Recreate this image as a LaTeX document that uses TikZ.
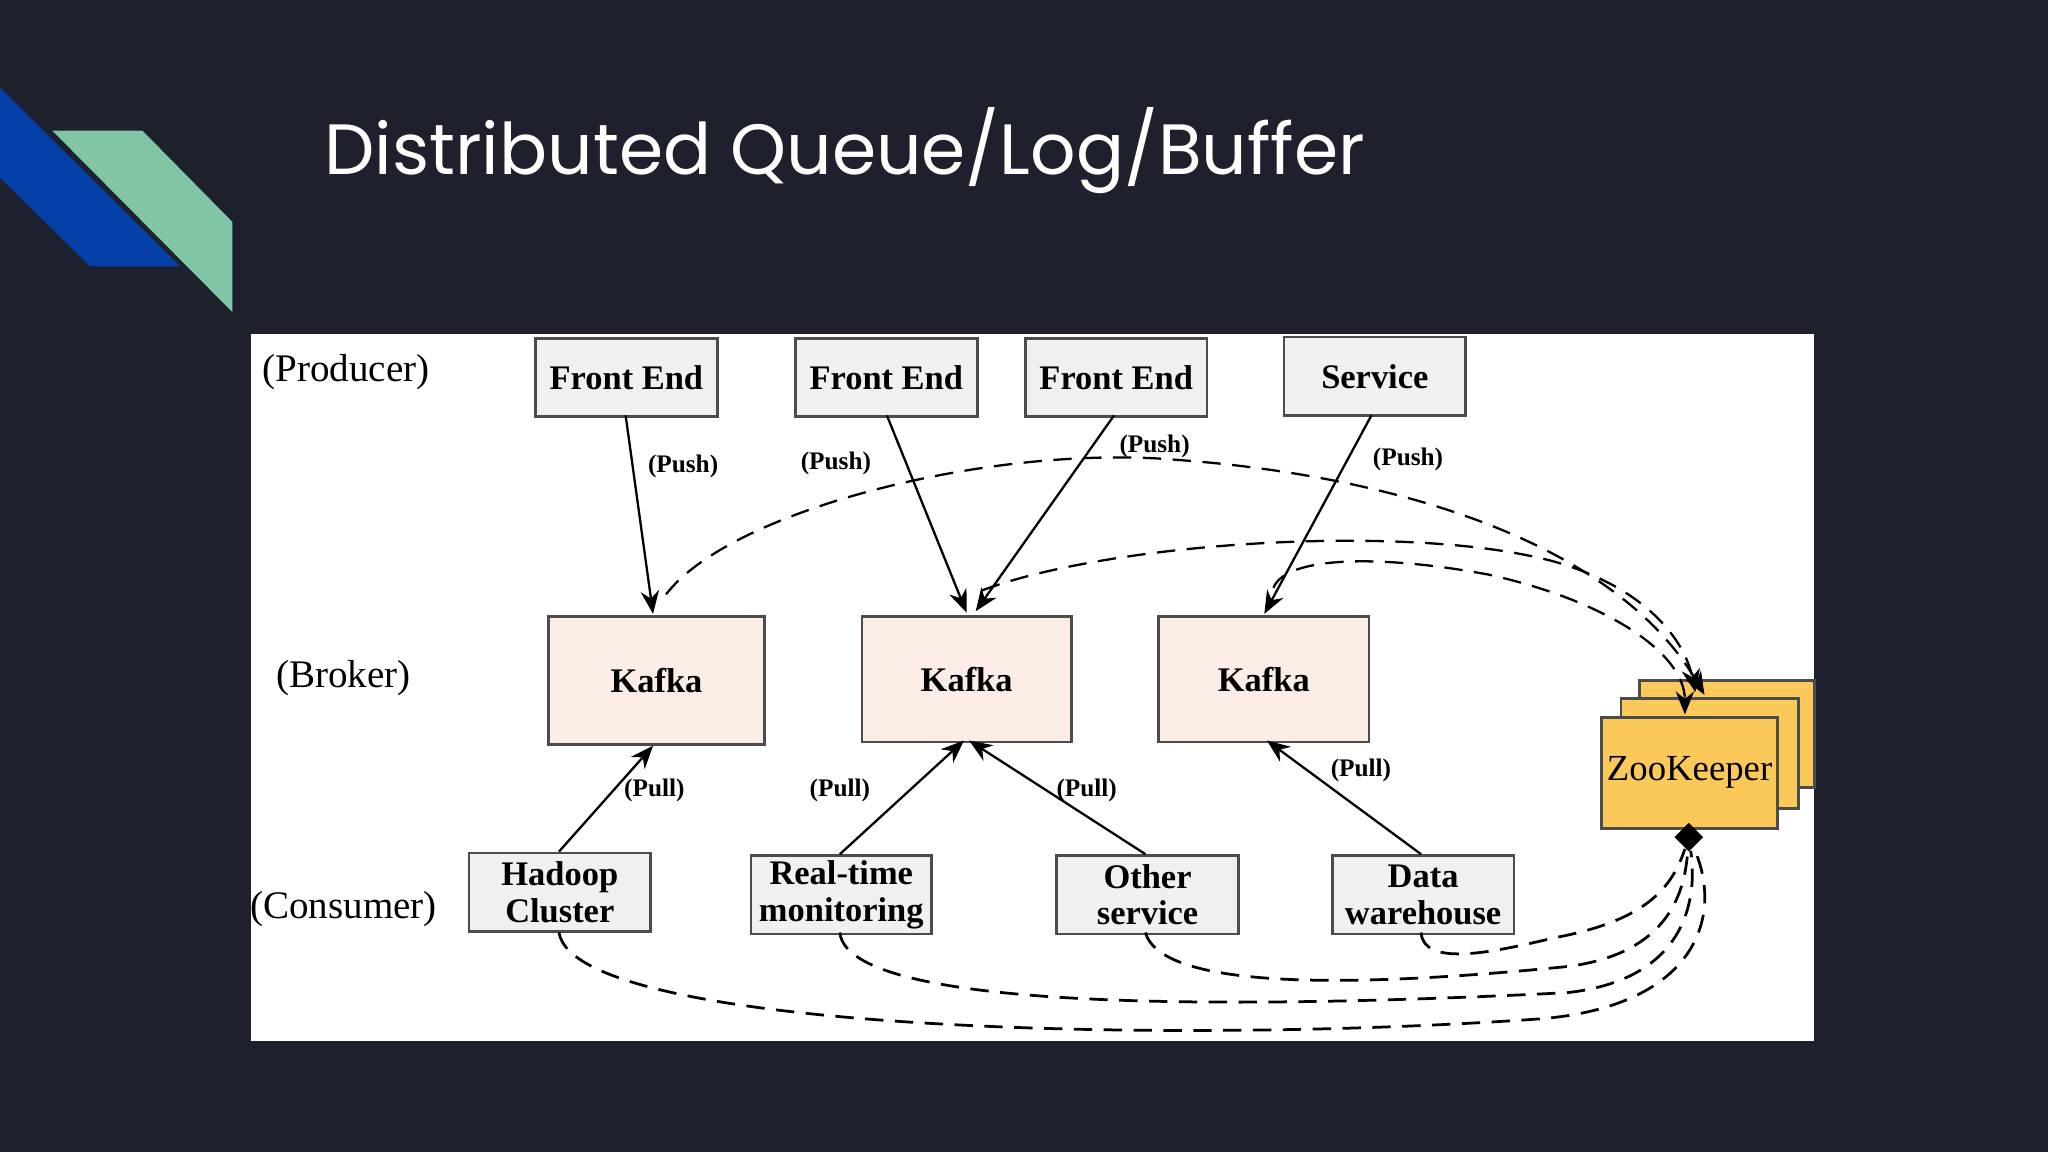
\documentclass[tikz,border=0pt]{standalone}
\usepackage{fontspec}
\setmainfont{Liberation Serif}
\newfontfamily\titlefont{Poppins}
\usetikzlibrary{arrows.meta,shapes.geometric}
\definecolor{bg}{RGB}{30,32,45}
\definecolor{bl}{RGB}{4,64,168}
\definecolor{gr}{RGB}{128,198,164}
\definecolor{kf}{RGB}{252,238,230}
\definecolor{pb}{RGB}{240,240,240}
\definecolor{zk}{RGB}{251,200,90}
\begin{document}
\begin{tikzpicture}[x=0.01cm,y=-0.01cm,
 box/.style={draw=black!70,line width=0.6pt,fill=pb,font=\bfseries\fontsize{7.5}{8}\selectfont,align=center,inner sep=0,anchor=north west},
 kaf/.style={box,fill=kf},
 zkb/.style={draw=black!70,line width=0.6pt,fill=zk,inner sep=0,anchor=north west},
 lab/.style={font=\bfseries\fontsize{5.5}{6}\selectfont},
 side/.style={font=\fontsize{8.5}{9}\selectfont},
 arr/.style={-{Stealth[length=5pt,width=4pt]},line width=0.5pt},
 dsh/.style={dashed,dash pattern=on 4pt off 2.5pt,line width=0.6pt}]
\fill[bg] (0,0) rectangle (1568,882);
\useasboundingbox (0,0) rectangle (1568,882);
\fill[bl] (0,67)--(0,136)--(69,204)--(138,204)--cycle;
\fill[gr] (40,100)--(109,100)--(178,170)--(178,239)--cycle;
\node[anchor=west,text=white,font=\titlefont\fontsize{15.5}{17}\selectfont] (title) at (236,115) {Distributed Queue/Log/Buffer};
\fill[white] (192,256) rectangle (1389,797);
\node[side] (lp) at (265,285) {(Producer)};
\node[side] (lb) at (263,519) {(Broker)};
\node[side] (lc) at (263,696) {(Consumer)};
\node[box,minimum width=1.39cm,minimum height=0.6cm] (f1) at (409,258) {Front End};
\node[box,minimum width=1.39cm,minimum height=0.6cm] (f2) at (608,258) {Front End};
\node[box,minimum width=1.39cm,minimum height=0.6cm] (f3) at (784,258) {Front End};
\node[box,minimum width=1.39cm,minimum height=0.6cm] (sv) at (982,257) {Service};
\node[kaf,minimum width=1.65cm,minimum height=0.98cm] (k1) at (419,471) {Kafka};
\node[kaf,minimum width=1.6cm,minimum height=0.96cm] (k2) at (659,471) {Kafka};
\node[kaf,minimum width=1.61cm,minimum height=0.96cm] (k3) at (886,471) {Kafka};
\node[box,minimum width=1.39cm,minimum height=0.6cm] (c1) at (358,652) {Hadoop\\Cluster};
\node[box,minimum width=1.38cm,minimum height=0.6cm] (c2) at (574,654) {Real-time\\monitoring};
\node[box,minimum width=1.39cm,minimum height=0.6cm] (c3) at (808,654) {Other\\service};
\node[box,minimum width=1.39cm,minimum height=0.6cm] (c4) at (1019,654) {Data\\warehouse};
\node[zkb,minimum width=1.34cm,minimum height=0.82cm] (z3) at (1254,520) {};
\node[zkb,minimum width=1.36cm,minimum height=0.84cm] (z2) at (1240,534) {};
\node[zkb,minimum width=1.35cm,minimum height=0.85cm,font=\fontsize{8}{9}\selectfont] (zk) at (1225,548) {ZooKeeper};
% push
\coordinate (k1t) at (500,470); \coordinate (k2t) at (740,469); \coordinate (k3t) at (968,470);
\draw[arr] (479,318) -- (k1t);
\draw[arr] (679,318) -- (k2t);
\draw[arr] (853,318) -- (747,468);
\draw[arr] (1050,318) -- (k3t);
\node[lab] (p1) at (523,357) {(Push)};
\node[lab] (p2) at (640,355) {(Push)};
\node[lab] (p3) at (884,342) {(Push)};
\node[lab] (p4) at (1078,352) {(Push)};
% pull
\draw[arr] (428,652) -- (500,571);
\draw[arr] (643,654) -- (738,567);
\draw[arr] (877,654) -- (742,567);
\draw[arr] (1088,654) -- (970,567);
\node[lab] (q1) at (501,605) {(Pull)};
\node[lab] (q2) at (643,605) {(Pull)};
\node[lab] (q3) at (832,605) {(Pull)};
\node[lab] (q4) at (1042,590) {(Pull)};
% zookeeper links
\coordinate (za) at (1305,532); \coordinate (zb) at (1298,530); \coordinate (zc) at (1290,547);
\draw[dsh,arr] (510,455) .. controls (560,390) and (760,340) .. (900,352) .. controls (1080,365) and (1240,420) .. (za);
\draw[dsh,arr] (752,452) .. controls (850,415) and (1080,400) .. (1190,430) .. controls (1260,450) and (1290,490) .. (zb);
\draw[dsh,arr] (975,450) .. controls (985,425) and (1060,425) .. (1140,440) .. controls (1230,460) and (1290,500) .. (zc);
\node[diamond,fill=black,inner sep=1.6pt] (zd) at (1293,641) {};
\draw[dsh] (1088,714) .. controls (1090,740) and (1140,730) .. (1190,718) .. controls (1260,705) and (1280,680) .. (zd);
\draw[dsh] (877,714) .. controls (890,760) and (1050,755) .. (1200,740) .. controls (1280,730) and (1290,680) .. (zd);
\draw[dsh] (643,714) .. controls (650,780) and (1000,770) .. (1200,760) .. controls (1290,750) and (1300,690) .. (zd);
\draw[dsh] (428,714) .. controls (440,790) and (900,800) .. (1180,780) .. controls (1300,770) and (1320,700) .. (zd);
\end{tikzpicture}
\end{document}
